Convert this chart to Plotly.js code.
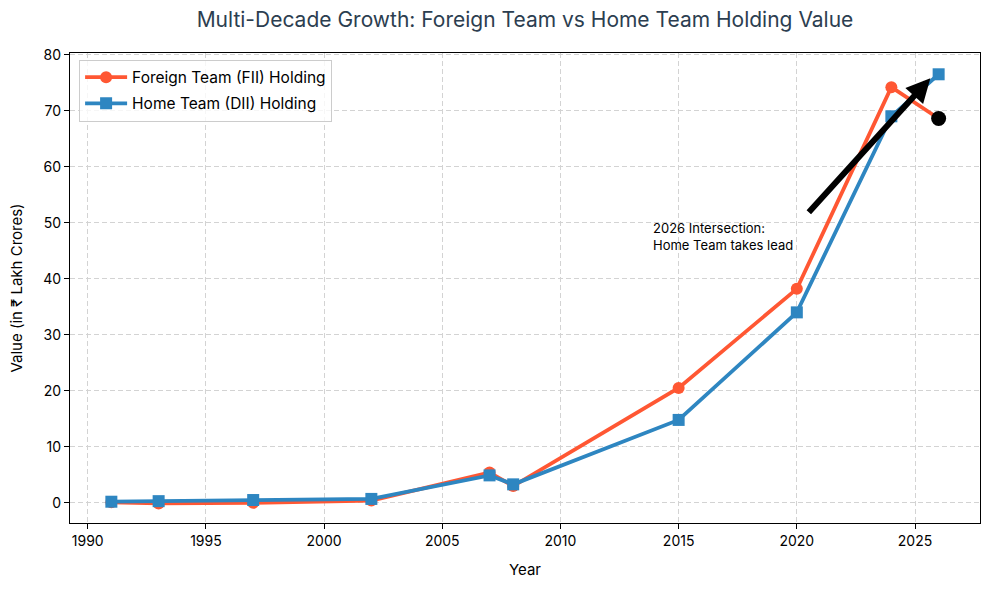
<!DOCTYPE html>
<html><head><meta charset="utf-8">
<script src="https://cdn.plot.ly/plotly-3.0.1.min.js"></script>
<style>body{margin:0;background:#fff}#chart{width:989px;height:590px}</style>
</head><body><div id="chart"></div>
<script>
const years = [1991, 1993, 1997, 2002, 2007, 2008, 2015, 2020, 2024, 2026];
const foreignValues = [0.1, -0.1, 0.0, 0.4, 5.4, 3.0, 20.5, 38.2, 74.2, 68.6];
const homeValues = [0.2, 0.3, 0.5, 0.7, 4.9, 3.3, 14.8, 34.0, 69.0, 76.5];
const seriesNames = ['Foreign Team (FII) Holding', 'Home Team (DII) Holding'];
const highlightYear = [2026];
const highlightValue = [68.6];
const xTicks = [1990, 1995, 2000, 2005, 2010, 2015, 2020, 2025];
const yTicks = [0, 10, 20, 30, 40, 50, 60, 70, 80];
const noteText = '2026 Intersection:<br>Home Team takes lead';
const notePos = [2013.85, 44.2];
const arrowTail = [2020.45, 51.6];
const arrowHead = [2025.65, 75.8];

const FONT = 'Inter, "DejaVu Sans", sans-serif';
const traces = [
  {x: years, y: foreignValues, name: seriesNames[0], mode: 'lines+markers', legendgroup: 'a',
   line: {color: '#FF5733', width: 3.8}, marker: {symbol: 'circle', size: 12, color: '#FF5733'}},
  {x: years, y: homeValues, name: seriesNames[1], mode: 'lines+markers', legendgroup: 'b',
   line: {color: '#2E86C1', width: 3.8}, marker: {symbol: 'square', size: 12, color: '#2E86C1'}},
  {x: highlightYear, y: highlightValue, mode: 'markers', showlegend: false,
   marker: {symbol: 'circle', size: 15, color: '#000000'}}
];
const axisCommon = {
  showline: true, mirror: true, linecolor: '#000', linewidth: 1.2,
  ticks: 'outside', ticklen: 5, tickcolor: '#000', zeroline: false,
  showgrid: true, gridcolor: '#d3d3d3', griddash: '5px,3px', gridwidth: 1,
  tickfont: {size: 14, color: '#000', family: FONT}
};
const layout = {
  width: 989, height: 590,
  margin: {l: 70, r: 9, t: 53, b: 67},
  paper_bgcolor: '#fff', plot_bgcolor: '#fff',
  font: {family: FONT, color: '#000'},
  title: {text: 'Multi-Decade Growth: Foreign Team vs Home Team Holding Value',
          font: {size: 21, color: '#2C3E50', family: FONT}, xref: 'paper', x: 0.5, xanchor: 'center',
          yref: 'container', y: 0.967, yanchor: 'middle'},
  xaxis: Object.assign({}, axisCommon, {range: [1989.25, 2027.75], tickvals: xTicks,
    title: {text: 'Year', font: {size: 15, family: FONT}, standoff: 16}}),
  yaxis: Object.assign({}, axisCommon, {range: [-3.6, 80.3], tickvals: yTicks,
    title: {text: 'Value (in ₹ Lakh Crores)', font: {size: 15, family: FONT}, standoff: 16}}),
  legend: {x: 0.01, y: 0.986, xanchor: 'left', yanchor: 'top', bgcolor: 'rgba(255,255,255,0.8)',
    bordercolor: '#cccccc', borderwidth: 1, font: {size: 15.5, family: FONT}, itemwidth: 42,
    tracegroupgap: 3},
  showlegend: true,
  annotations: [
    {x: arrowHead[0], y: arrowHead[1], ax: arrowTail[0], ay: arrowTail[1], axref: 'x', ayref: 'y',
     xref: 'x', yref: 'y', text: '', showarrow: true, arrowhead: 2, arrowsize: 0.8, arrowwidth: 6,
     arrowcolor: '#000', standoff: 0, startstandoff: 0},
    {x: notePos[0], y: notePos[1], xref: 'x', yref: 'y', text: noteText, showarrow: false,
     xanchor: 'left', yanchor: 'bottom', align: 'left', font: {size: 13, color: '#000', family: FONT}}
  ]
};
Plotly.newPlot('chart', traces, layout, {displayModeBar: false});
</script></body></html>
